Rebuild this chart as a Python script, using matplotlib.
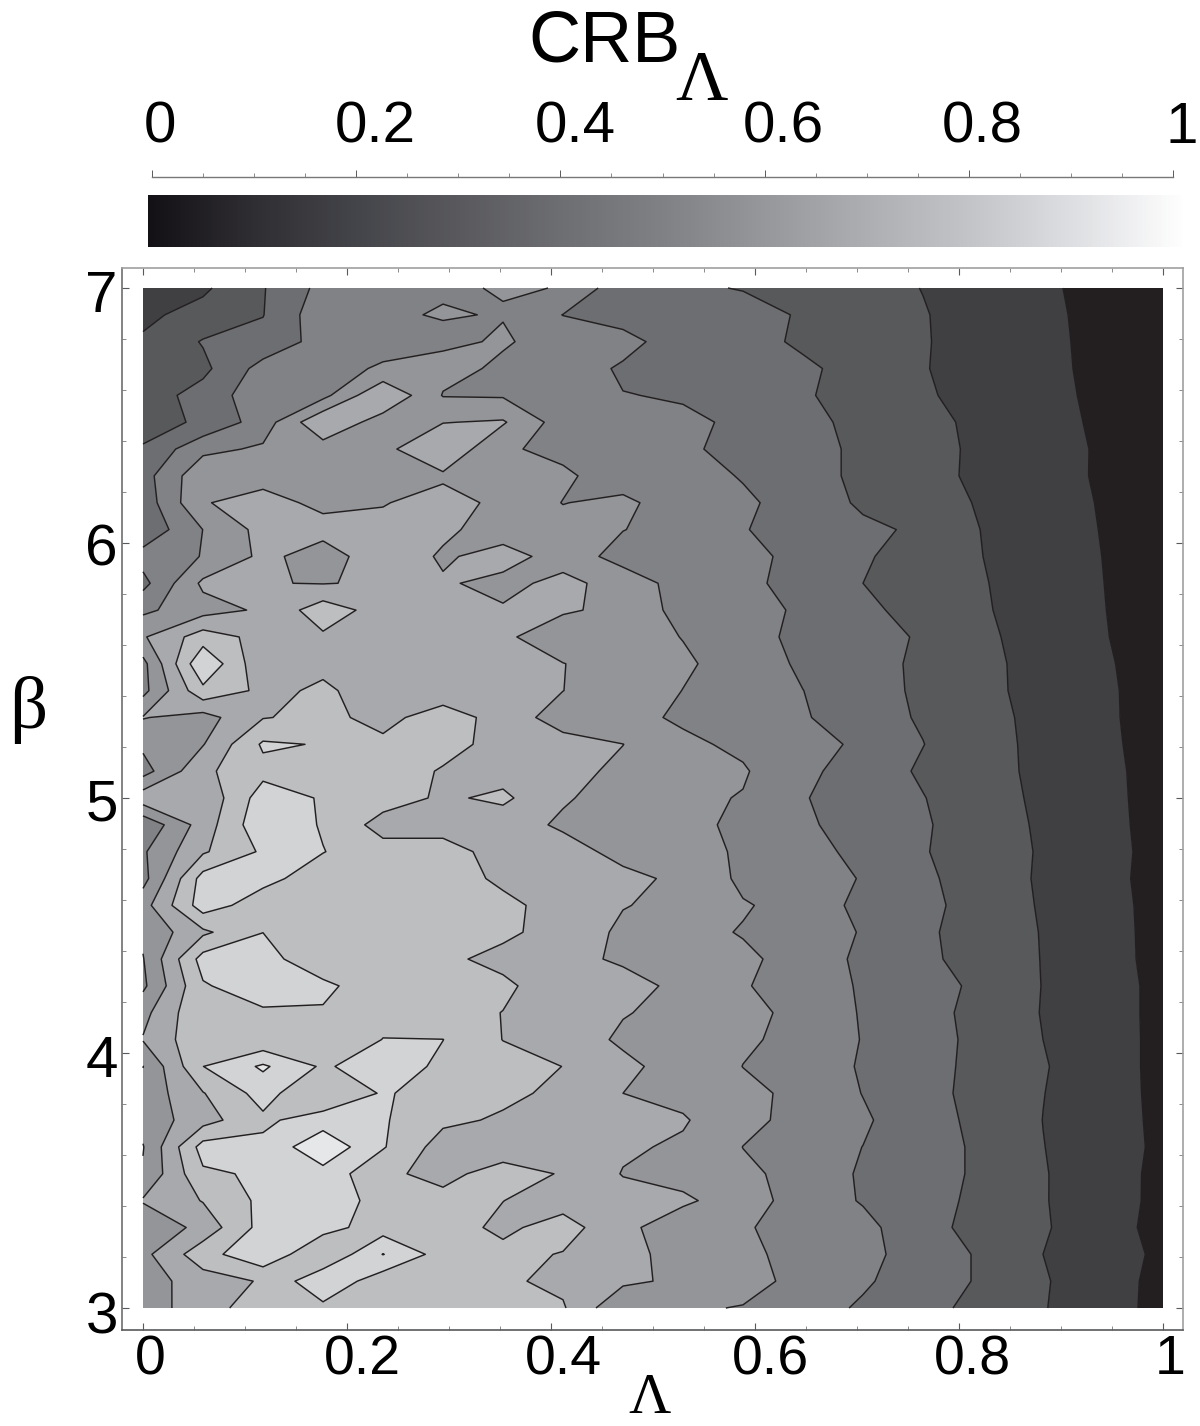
import numpy as np
import matplotlib
matplotlib.use("Agg")
import matplotlib.pyplot as plt
from matplotlib.colors import LinearSegmentedColormap
from matplotlib.transforms import ScaledTranslation

W, H = 1200, 1426
plt.rcParams['font.family'] = ['Liberation Sans', 'DejaVu Sans']

# CRB values in percent of full scale; rows run from beta=7 (top) to beta=3
crb_rows = [
[16,18.3,29.4,43,48.5,49.4,50.3,49.9,33,31.2,29.6,26.4,23.1,19.8,15.6,11.4,7.2,3],
[18,23.5,29.7,46.5,49.2,50.4,49.7,39.8,37,35,33,29.2,24.6,20.5,16.2,11.8,7.5,3],
[21.2,30.7,33,44,47,48.5,50.8,46.8,42.5,36,32.5,28.9,24.5,20.6,16.4,12,7.7,3],
[23,27.6,43.8,47,51,52.8,48.5,44,39,36.5,34,31.2,27.5,20.5,16,12.1,7.9,3],
[25,33.8,46.6,47,69.5,49.5,49,44,40.2,39.5,35,30.8,27,21,17,12.4,8.2,3.5],
[25.7,31.7,44.8,69,55,59.7,61,45,43,41,39.1,33,27,23,17.5,13,8.5,3.5],
[31,47.5,51.4,55.3,57.6,68,51.5,47,44,40.8,38.5,33.5,28,23.3,18,13.6,8.9,4],
[36,57.5,57,57,57,58.5,56,52,44,42.5,39.6,33.5,28,23.6,17.6,13.8,8.8,4],
[34,59.5,63,58,59.5,63.5,57.8,49.7,52.6,43.4,41,37.5,28,24.3,19,14.2,9.3,4.5],
[32.3,50.1,63.3,62.9,62.6,61.5,56.5,54,50.3,45,40.3,37.5,32.5,28,19.6,14.7,9.6,4.5],
[44,50.4,62.2,56,65.2,59,62.8,57,45.3,42.5,41.5,38.5,30.5,28,20,15,9.9,4.5],
[37,62,60.4,59.6,61.2,60.8,58,62,57,45,41,38.5,30,27,20.5,15.5,10.1,5],
[48,56,61.5,75.5,65.5,62,60.7,61,58,46,43,38.8,31.5,27.5,20.8,16,10.3,5],
[59,75,66.7,68.5,66,65,61.5,55,53,49.8,43,38,33.5,29,21.5,16.5,10.6,5],
[47,89,62,68,64,63,63,60.2,56,51,47,38,33,28.5,22,17,11.2,5.5],
[47,77.5,67.7,71.4,65.8,64,63,60.1,54,49.9,45,40.1,33,28.7,22,17.2,11.5,6],
[60.5,56,69.5,72.5,67,75,66,55,53,48.5,45,41,34,29,23,17.3,11.6,6],
[52,59.5,81.4,79.4,72,72,68,64,60.1,52,48,44,38,30.2,23,17.8,12,6],
[46,68,77,76,73,69.5,66,63,58,55,51,42,36,28.5,23,18,12.3,6.5],
[66,62,85,79.1,74.5,68.5,72,61,56,52,49.5,40.6,35,30.4,23,18.6,12.2,7],
[42,64.6,87.7,79.1,66,68,64.5,58.5,56,52,48.5,41.5,36,31,25,18.5,12.5,7],
[48.7,68.7,81.5,80.3,74,72,68,64,57,52,49.3,44,37,30.5,26,18.8,13,7],
[46.5,84,83,74.8,73,72,69.2,65,62.5,58,48,44,39.5,31.5,26,18.5,13,6.5],
[56,85,74.6,74,73,72,71,68.4,60.5,57,50.7,47,36.8,32.5,26,19,13.2,7],
[52,68,79.9,75,74,72,71,68,57.6,52.5,49.5,44,39.5,31.5,26,19.5,13.5,7],
[49.5,84,85,70.7,72,71,68.6,63,58.5,54,51.5,47,37.5,31.5,27,19.6,13.7,7],
[48,79,85.7,83,71.8,71.5,71,67,63.7,57.5,50.5,47,38.6,32.7,28.5,19.7,14,7.5],
[57,79,78.5,78.7,77,72,69.9,65,60.5,57.5,51.5,48.5,39,32.7,27.5,19.5,14,7.5],
[60.6,78,72,72,80.2,80.1,69.8,65,58.5,56,51,48,39.5,33.5,27.5,20,14.2,7.5],
[49.8,79.9,91.5,78.5,86,77.8,74,69.9,62.2,56,49.9,47,38.8,33,27.5,20.7,14.2,7.5],
[53.2,69.5,84,70,81.1,75.6,72,68,60,57,52,48,39.7,32.5,27.5,20.2,14.5,7.5],
[53.6,66,78,85,81,72,68.8,67,64,61,52.5,47,41.5,33,28,19.9,14.7,7.7],
[49.5,84,82.3,97.7,80.8,65.5,64,63,61.5,58.5,49.9,45,39.9,33,28.7,20.2,14.8,8],
[51,78.4,81.4,86.5,72,67,74.5,69.2,59.5,56,51.5,47.5,38.5,33,28.7,20.6,14.5,7.5],
[61,70.5,82.4,88,75,73,70.1,66,64,62,54.1,46,39.2,33,28,20.6,14.4,7.5],
[50.5,63.7,83.7,83.5,75.3,74,68,74,63,53,51.5,44,43,33,26.8,21,14,7],
[57.2,76,88,70.5,90.3,75.7,72.5,69.5,62.5,57,52,47,42.5,36,28.5,20,14.8,8],
[55,65.4,70.9,88,74,72.5,71.5,67.75,62,58,53,47.5,41.5,34,29,20.8,14.6,7],
[52,68.6,71.75,77.6,76,74,72,71,51,51,49.6,45,38.5,33,27,20.5,14.2,7],
]
lambda_vals = np.arange(18) / 17
beta_vals = 7 - np.arange(39) * 4 / 38
levels = [v / 100 for v in range(0, 101, 10)]
band_colors = ['#231f20', '#404042', '#58595b', '#6d6e71', '#808285',
               '#939598', '#a7a9ac', '#bcbec0', '#d1d3d4', '#e6e7e8']
cbar_stops = ['#141116', '#2f2e33', '#44454a', '#5a5a5e', '#6e6f73', '#808285',
              '#97999d', '#aeb0b4', '#c5c6ca', '#e0e1e4', '#ffffff']
x_ticks = [0, 0.2, 0.4, 0.6, 0.8, 1]
x_labels = ['0', '0.2', '0.4', '0.6', '0.8', '1']
y_ticks = [3, 4, 5, 6, 7]
y_labels = ['3', '4', '5', '6', '7']


def rect(left, top, right, bottom):
    return [left / W, 1 - bottom / H, (right - left) / W, (bottom - top) / H]


fig = plt.figure(figsize=(W / 100, H / 100), dpi=100, facecolor='white')

# main panel
ax = fig.add_axes(rect(122, 268, 1183, 1330))
ax.set_xlim(-21 / 1020, 1040 / 1020)
ax.set_ylim(3 - 22 / 255, 7 + 20 / 255)
Z = np.array(crb_rows) / 100
ax.contourf(lambda_vals, beta_vals, Z, levels=levels, colors=band_colors, antialiased=True)
ax.contour(lambda_vals, beta_vals, Z, levels=levels[1:-1], colors='#231f20', linewidths=1.05)

ax.set_xticks(x_ticks)
ax.set_xticklabels(x_labels, fontsize=40)
ax.set_xticks(np.arange(0, 1.001, 0.05), minor=True)
ax.set_yticks(y_ticks)
ax.set_yticklabels(y_labels, fontsize=42)
ax.set_yticks(np.arange(3, 7.01, 0.2), minor=True)
ax.tick_params(which='major', direction='in', length=5, width=0.8, color='#58595b',
               top=True, right=True, pad=3)
ax.tick_params(which='minor', direction='in', length=3, width=0.6, color='#777777',
               top=True, right=True)
ax.tick_params(axis='x', which='major', pad=3)
for s, c, lw in [('left', '#6d6e71', 1.2), ('bottom', '#58595b', 1.2),
                 ('top', '#a0a0a0', 1.2), ('right', '#a0a0a0', 1.2)]:
    ax.spines[s].set_color(c)
    ax.spines[s].set_linewidth(lw)

for lab, dx in zip(ax.get_xticklabels(), [7, 15, 12, 16, 13, 7]):
    lab.set_transform(lab.get_transform() + ScaledTranslation(dx / 100, 0, fig.dpi_scale_trans))
for lab, dy in zip(ax.get_yticklabels(), [-4, -3, -2, -2, -3]):
    lab.set_transform(lab.get_transform() + ScaledTranslation(0, dy / 100, fig.dpi_scale_trans))

# colour bar gradient
cax = fig.add_axes(rect(148, 195, 1186, 247))
cmap = LinearSegmentedColormap.from_list('crb', cbar_stops)
cax.imshow(np.linspace(0, 1, 512)[None, :], cmap=cmap, aspect='auto', extent=[0, 1, 0, 1])
cax.axis('off')

# colour bar scale
sax = fig.add_axes(rect(152, 177, 1173, 178))
sax.set_xlim(0, 1)
sax.set_yticks([])
sax.patch.set_visible(False)
for s in ['left', 'right', 'bottom']:
    sax.spines[s].set_visible(False)
sax.spines['top'].set_color('#777777')
sax.spines['top'].set_linewidth(1.0)
sax.xaxis.tick_top()
sax.set_xticks(x_ticks)
sax.set_xticklabels(x_labels, fontsize=42)
sax.set_xticks(np.arange(0, 1.001, 0.05), minor=True)
sax.tick_params(which='major', direction='out', length=5, width=0.7, color='#58595b', pad=11)
sax.tick_params(which='minor', direction='out', length=3, width=0.6, color='#777777')
for lab, dx in zip(sax.get_xticklabels(), [8, 19, 15, 19, 13, 9]):
    lab.set_transform(lab.get_transform() + ScaledTranslation(dx / 100, 0, fig.dpi_scale_trans))

# titles and axis names
fig.text(605 / W, 1 - 62 / H, 'CRB', fontsize=52, ha='center', va='baseline',
         family=['Liberation Sans', 'DejaVu Sans'])
fig.text(702 / W, 1 - 100 / H, '\u039b', fontsize=52, ha='center', va='baseline',
         family=['Liberation Serif', 'DejaVu Serif'])
fig.text(650 / W, 1 - 1413 / H, '\u039b', fontsize=42, ha='center', va='baseline',
         family=['Liberation Serif', 'DejaVu Serif'])
fig.text(28 / W, 1 - 728 / H, '\u03b2', fontsize=54, ha='center', va='baseline',
         family=['Liberation Serif', 'DejaVu Serif'])

fig.savefig('out.png', dpi=100, facecolor='white')
